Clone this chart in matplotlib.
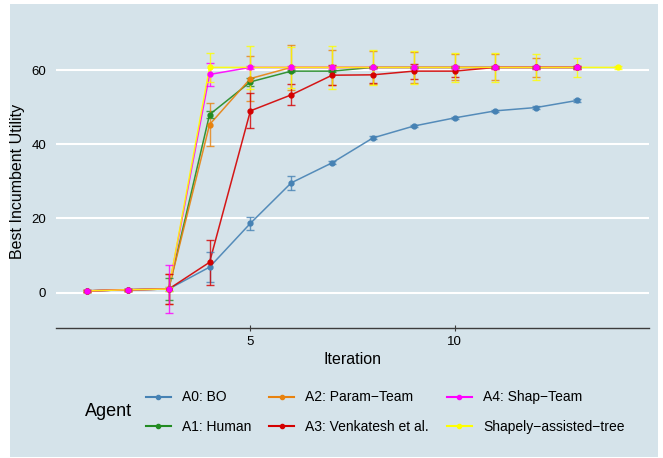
import matplotlib.pyplot as plt
import numpy as np
from matplotlib.patches import Rectangle
from matplotlib.lines import Line2D

plt.rcParams['font.family'] = ['Liberation Sans', 'DejaVu Sans']

# data
agents = ["A0: BO", "A1: Human", "A2: Param\u2212Team", "A3: Venkatesh et al.",
          "A4: Shap\u2212Team", "Shapely\u2212assisted\u2212tree"]
colors = ["#4682B4", "#228B22", "#E8820E", "#D40000", "#FF00FF", "#FFFF00"]

iters = [1, 2, 3, 4, 5, 6, 7, 8, 9, 10, 11, 12, 13]
iters_tree = [1, 2, 3, 4, 5, 6, 7, 8, 9, 10, 11, 12, 13, 14]

bo = [0.5, 0.8, 1.0, 6.9, 18.7, 29.6, 35.0, 41.7, 44.9, 47.1, 49.0, 49.9, 51.8]
bo_err = [0.2, 0.2, 0.5, 4.0, 1.8, 1.9, 0.4, 0.4, 0.3, 0.3, 0.3, 0.3, 0.3]

human = [0.5, 0.8, 1.0, 48.0, 56.8, 59.7, 59.7, 60.7, 60.7, 60.7, 60.7, 60.7, 60.7]
human_err = [0.2, 0.2, 2.9, 1.0, 1.0, 0.3, 0.3, 0.2, 0.2, 0.2, 0.2, 0.2, 0.2]

param = [0.5, 0.8, 1.0, 45.3, 57.7, 60.7, 60.7, 60.7, 60.7, 60.7, 60.7, 60.7, 60.7]
param_err = [0.2, 0.2, 4.0, 5.8, 6.0, 6.0, 4.8, 4.4, 4.1, 3.5, 3.5, 2.6, 0.5]

venk = [0.5, 0.8, 1.0, 8.2, 49.0, 53.3, 58.6, 58.7, 59.7, 59.7, 60.7, 60.7, 60.7]
venk_err = [0.2, 0.2, 4.0, 6.0, 4.7, 2.8, 2.7, 2.1, 2.0, 1.5, 0.3, 0.3, 0.3]

shap = [0.5, 0.8, 1.0, 58.8, 60.7, 60.7, 60.7, 60.7, 60.7, 60.7, 60.7, 60.7, 60.7]
shap_err = [0.2, 0.2, 6.4, 3.0, 0.5, 0.3, 0.3, 0.3, 0.3, 0.3, 0.3, 0.3, 0.3]

tree = [0.5, 0.8, 1.0, 60.7, 60.7, 60.7, 60.7, 60.7, 60.7, 60.7, 60.7, 60.7, 60.7, 60.7]
tree_err = [0.2, 0.2, 0.5, 3.9, 5.7, 5.5, 5.7, 4.7, 4.5, 4.0, 3.8, 3.5, 2.6, 0.3]

series = [(iters, bo, bo_err), (iters, human, human_err), (iters, param, param_err),
          (iters, venk, venk_err), (iters, shap, shap_err), (iters_tree, tree, tree_err)]

W, H = 663, 458
bg = "#D5E3EA"
fig = plt.figure(figsize=(W / 100, H / 100), dpi=100)
fig.patch.set_facecolor("white")
fig.patches.append(Rectangle((10 / W, 1 - 457 / H), 648 / W, 453 / H,
                             transform=fig.transFigure, facecolor=bg,
                             edgecolor="none", zorder=-10))

ax = fig.add_axes([56 / W, 1 - 328 / H, 593 / W, 294 / H])
ax.set_facecolor(bg)

# lines first, then error bars, then points (tree points under the rest)
for (x, y, e), c in zip(series, colors):
    ax.plot(x, y, color=c, lw=1.1, alpha=0.9, zorder=2)
for (x, y, e), c in zip(series, colors):
    ax.errorbar(x, y, yerr=e, fmt="none", ecolor=c, elinewidth=1.0, capsize=3,
                capthick=1.0, alpha=0.8, zorder=3)
order = [5, 0, 1, 2, 3, 4]
for i in order:
    x, y, e = series[i]
    ax.plot(x, y, ls="none", marker="o", ms=3.5, color=colors[i], zorder=4)

ax.set_xlim(0.24, 14.76)
ax.set_ylim(-9.5, 69.7)
ax.set_xticks([5, 10])
ax.set_yticks([0, 20, 40, 60])
ax.grid(axis="y", color="white", lw=1.5)
ax.set_axisbelow(True)
for s in ["top", "right", "left"]:
    ax.spines[s].set_visible(False)
ax.spines["bottom"].set_color("#3C3C3C")
ax.spines["bottom"].set_linewidth(1.0)
ax.tick_params(axis="x", direction="inout", length=5, color="#3C3C3C",
               labelsize=9.5, pad=3)
ax.tick_params(axis="y", length=0, labelsize=9.5, pad=7)
ax.set_xlabel("Iteration", fontsize=11.5, labelpad=3)
ax.set_ylabel("Best Incumbent Utility", fontsize=11.5, labelpad=5)

handles = [Line2D([], [], color=c, lw=1.5, marker="o", ms=3) for c in colors]
leg = fig.legend(handles, agents, ncol=3, loc="center",
                 bbox_to_anchor=(385 / W, 1 - 412 / H), frameon=False,
                 fontsize=10, handlelength=1.8, handletextpad=0.8,
                 columnspacing=1.3, labelspacing=1.1)
fig.text(85 / W, 1 - 411 / H, "Agent", fontsize=13, ha="left", va="center")

fig.savefig("out.png", dpi=100, facecolor="white")
